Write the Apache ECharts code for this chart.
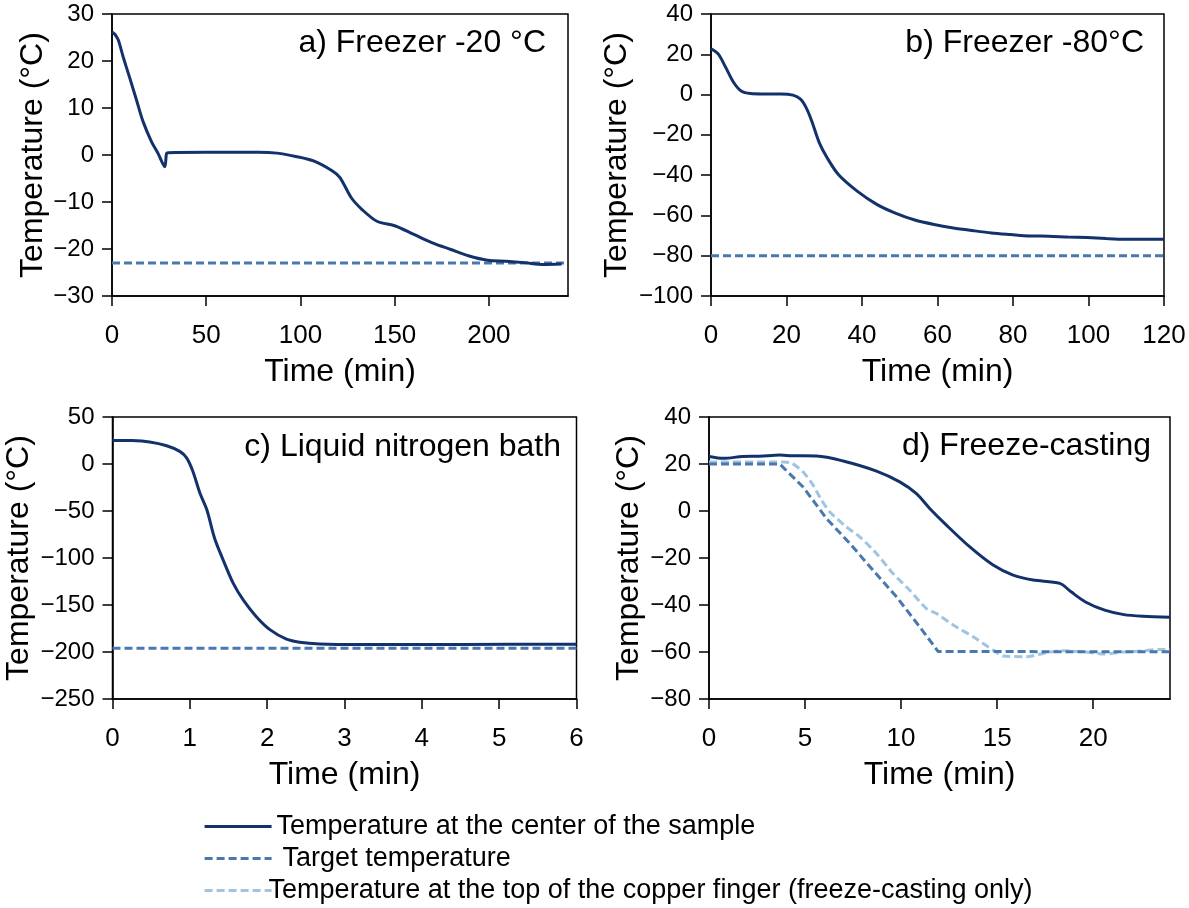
<!DOCTYPE html>
<html><head><meta charset="utf-8">
<script src="https://cdn.jsdelivr.net/npm/echarts@6/dist/echarts.min.js"></script>
<style>html,body{margin:0;padding:0;background:#fff}#c{width:1189px;height:908px}</style>
</head><body><div id="c"></div>
<script>
// ---------- data ----------
// a) Freezer -20 °C
const aTime = [0,1.5,3.3,5.9,9.5,13,16.5,21,24.5,28,28.9,29.8,50,77.8,87.6,97.5,107.3,117,121,127,132.7,140.6,150.4,160.2,170,179.8,189.6,199.4,209.2,219,228.8,238.6];
const aTemp = [26.2,25.7,24.5,20.9,16.3,11.7,7.1,2.8,0.3,-2.5,0.3,0.5,0.6,0.6,0.4,-0.3,-1.3,-3.4,-4.8,-9.1,-11.6,-14.1,-15.1,-16.9,-18.7,-20.1,-21.5,-22.4,-22.6,-22.9,-23.3,-23.2];
const aTargetTime = [0,242];
const aTargetTemp = [-23,-23];
// b) Freezer -80 °C
const bTime = [0,1.9,3.9,6,8,10.5,13.6,18.6,21.7,23.7,25.2,26.7,28.7,30.8,33.8,38.9,43.9,49,54,59.1,64.2,69.2,74.3,79.4,84.4,89.5,94.5,99.6,104.7,109.7,120];
const bTemp = [22.7,20.2,13.5,6,1.8,0.5,0.3,0.3,-0.3,-2.3,-6.5,-13.2,-24,-31.5,-39.8,-48.2,-54.5,-59,-62.3,-64.5,-66.2,-67.5,-68.7,-69.5,-70.2,-70.3,-70.7,-71,-71.5,-71.8,-71.8];
const bTargetTime = [0,120];
const bTargetTemp = [-80,-80];
// c) Liquid nitrogen bath
const cTime = [0,0.25,0.48,0.7,0.87,0.96,1.04,1.13,1.22,1.32,1.43,1.56,1.69,1.86,2.04,2.25,2.42,2.68,3.16,4.5,6];
const cTemp = [25.1,24.9,23.4,19.4,13.4,6.3,-7.9,-30.9,-48.7,-78.9,-102,-126.8,-144.6,-162.4,-176.5,-186.4,-189.6,-191.4,-192.1,-192,-191.7];
const cTargetTime = [0,6];
const cTargetTemp = [-196,-196];
// d) Freeze-casting
const dTime = [0,0.76,1.75,2.64,3.69,4.33,5.6,6.98,8.72,9.93,10.8,11.49,12.36,13.58,14.79,15.83,16.87,18.26,18.85,19.6,20.6,21.6,22.6,24];
const dTemp = [23.2,22.4,23.2,23.3,23.8,23.5,23.4,21.3,17.0,12.4,7.4,1.1,-6,-15.3,-23,-27.3,-29.4,-30.8,-34.4,-38.7,-42.2,-44.1,-44.8,-45.2];
const dTargetTime = [0,3.68,4.9,6.12,7.33,8.54,9.76,10.97,11.93,24];
const dTargetTemp = [20,20,10.2,-3.2,-13.8,-25.2,-36.5,-49.3,-59.8,-59.9];
const dCopperTime = [0,3.9,4.3,4.9,5.42,5.86,6.29,7.16,7.85,8.72,9.58,10.45,11.32,11.84,12.71,13.75,14.79,15.31,16.53,17.39,18.26,19.6,20.6,21.6,22.6,23.4,24];
const dCopperTemp = [20.8,20.8,20.4,16.6,11,4.6,-0.4,-6.8,-11,-18.1,-26.6,-33.7,-41.5,-43.6,-48.5,-53.5,-59.2,-61.7,-62,-60.6,-59.5,-60,-60.9,-60,-59.5,-58.9,-58.9];

// tick labels
const xTicksA = [0,50,100,150,200];
const xTicksB = [0,20,40,60,80,100,120];
const xTicksC = [0,1,2,3,4,5,6];
const xTicksD = [0,5,10,15,20];
const yTicksA = [-30,-20,-10,0,10,20,30];
const yTicksB = [-100,-80,-60,-40,-20,0,20,40];
const yTicksC = [-250,-200,-150,-100,-50,0,50];
const yTicksD = [-80,-60,-40,-20,0,20,40];

const panelTitles = ['a) Freezer -20 °C','b) Freezer -80°C','c) Liquid nitrogen bath','d) Freeze-casting'];
const NAME_CENTER = 'Temperature at the center of the sample';
const NAME_TARGET = 'Target temperature';
const NAME_COPPER = 'Temperature at the top of the copper finger (freeze-casting only)';

// ---------- styling ----------
const FONT = 'Liberation Sans, Arial, Helvetica, sans-serif';
const C_CENTER = '#13326c';
const C_TARGET = '#4a78ae';
const C_COPPER = '#9fc5e3';
const zip = (t, v) => t.map((x, i) => [x, v[i]]);
const minus = v => (v < 0 ? '\u2212' + Math.abs(v) : String(v));

const grids = [
  {left: 112, top: 14, width: 456, height: 282},
  {left: 711, top: 14, width: 453, height: 282},
  {left: 112.5, top: 417, width: 464, height: 282},
  {left: 709, top: 417, width: 461, height: 282}
].map(g => Object.assign(g, {show: true, borderColor: '#000', borderWidth: 1.5, containLabel: false, outerBoundsMode: 'none'}));

const xSpec = [
  {min: 0, max: 242, interval: 50, ticks: xTicksA},
  {min: 0, max: 120, interval: 20, ticks: xTicksB},
  {min: 0, max: 6, interval: 1, ticks: xTicksC},
  {min: 0, max: 24, interval: 5, ticks: xTicksD}
];
const ySpec = [
  {min: -30, max: 30, interval: 10, ticks: yTicksA, gap: 61},
  {min: -100, max: 40, interval: 20, ticks: yTicksB, gap: 78},
  {min: -250, max: 50, interval: 50, ticks: yTicksC, gap: 77},
  {min: -80, max: 40, interval: 20, ticks: yTicksD, gap: 64}
];

const axisCommon = {
  axisLine: {show: true, onZero: false, lineStyle: {color: '#000', width: 1.5}},
  splitLine: {show: false}
};

const xAxes = xSpec.map((s, i) => Object.assign({}, axisCommon, {
  type: 'value', gridIndex: i, min: s.min, max: s.max, interval: s.interval,
  axisTick: {show: true, length: 10, inside: false, lineStyle: {color: '#000', width: 1.5}, customValues: s.ticks},
  axisLabel: {show: true, color: '#000', fontSize: 26, fontFamily: FONT, margin: 27, customValues: s.ticks, formatter: minus},
  name: 'Time (min)', nameLocation: 'middle', nameGap: 60,
  nameTextStyle: {color: '#000', fontSize: 32, fontFamily: FONT}
}));

const yAxes = ySpec.map((s, i) => Object.assign({}, axisCommon, {
  type: 'value', gridIndex: i, min: s.min, max: s.max, interval: s.interval,
  axisTick: {show: true, length: 10, inside: false, lineStyle: {color: '#000', width: 1.5}, customValues: s.ticks},
  axisLabel: {show: true, color: '#000', fontSize: 24, fontFamily: FONT, margin: 18, customValues: s.ticks, formatter: minus},
  name: 'Temperature (°C)', nameLocation: 'middle', nameGap: s.gap,
  nameTextStyle: {color: '#000', fontSize: 32, fontFamily: FONT}
}));

function centerSeries(i, t, v) {
  return {type: 'line', name: NAME_CENTER, xAxisIndex: i, yAxisIndex: i, data: zip(t, v),
    symbol: 'none', showSymbol: false, smooth: 0.3, z: 4,
    lineStyle: {color: C_CENTER, width: 3}, itemStyle: {color: C_CENTER}};
}
function targetSeries(i, t, v) {
  return {type: 'line', name: NAME_TARGET, xAxisIndex: i, yAxisIndex: i, data: zip(t, v),
    symbol: 'none', showSymbol: false, smooth: false, z: 3,
    lineStyle: {color: C_TARGET, width: 3, type: [8, 4]}, itemStyle: {color: C_TARGET}};
}
function copperSeries(i, t, v) {
  return {type: 'line', name: NAME_COPPER, xAxisIndex: i, yAxisIndex: i, data: zip(t, v),
    symbol: 'none', showSymbol: false, smooth: 0.25, z: 2,
    lineStyle: {color: C_COPPER, width: 3, type: [8, 4]}, itemStyle: {color: C_COPPER}};
}

const series = [
  centerSeries(0, aTime, aTemp), targetSeries(0, aTargetTime, aTargetTemp),
  centerSeries(1, bTime, bTemp), targetSeries(1, bTargetTime, bTargetTemp),
  centerSeries(2, cTime, cTemp), targetSeries(2, cTargetTime, cTargetTemp),
  copperSeries(3, dCopperTime, dCopperTemp),
  centerSeries(3, dTime, dTemp), targetSeries(3, dTargetTime, dTargetTemp)
];

const titlePos = [
  {right: 643, top: 27},
  {right: 45, top: 27},
  {right: 628, top: 431},
  {right: 38, top: 430}
];
const titles = panelTitles.map((t, i) => Object.assign({
  text: t, padding: 0,
  textStyle: {color: '#000', fontSize: 32, fontWeight: 'normal', fontFamily: FONT}
}, titlePos[i]));

const chart = echarts.init(document.getElementById('c'), null, {renderer: 'canvas'});
chart.setOption({
  animation: false,
  backgroundColor: '#fff',
  title: titles,
  grid: grids,
  xAxis: xAxes,
  yAxis: yAxes,
  legend: {
    orient: 'vertical', left: 203, top: 813, padding: 0,
    itemWidth: 67, itemHeight: 14, itemGap: 5, selectedMode: false,
    lineStyle: {width: 3.2},
    itemStyle: {color: 'rgba(0,0,0,0)', borderWidth: 0, opacity: 0},
    textStyle: {color: '#000', fontSize: 27, fontFamily: FONT},
    data: [
      {name: NAME_CENTER},
      {name: NAME_TARGET, textStyle: {padding: [0, 0, 0, 6]}},
      {name: NAME_COPPER, textStyle: {padding: [0, 0, 0, -8]}}
    ]
  },
  series: series
});
</script></body></html>
